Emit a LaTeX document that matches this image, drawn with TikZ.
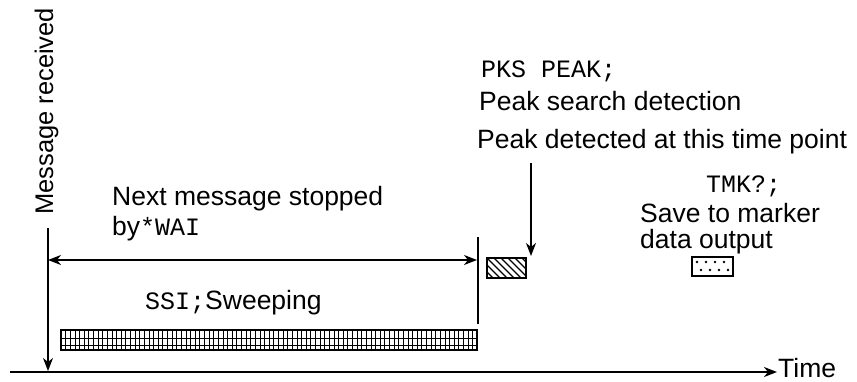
\documentclass[tikz,border=0pt]{standalone}
\usepackage{fontspec}
\setmainfont{Liberation Sans}
\newfontfamily\courierfont{Liberation Mono}
\usetikzlibrary{arrows.meta}

\tikzset{
  lbl/.style={inner sep=0pt, font=\fontsize{26.5}{30}\selectfont, anchor=base west},
  cmd/.style={inner sep=0pt, font=\courierfont\fontsize{25}{30}\selectfont, anchor=base west},
  arr/.style={line width=1.5pt, -{Stealth[length=13pt,width=10pt,inset=4pt]}},
  dblarr/.style={line width=1.5pt, {Stealth[length=13pt,width=10pt,inset=4pt]}-{Stealth[length=13pt,width=10pt,inset=4pt]}},
  barbox/.style={draw, line width=1.6pt},
}

\begin{document}
\begin{tikzpicture}[x=1pt,y=-1pt]
\useasboundingbox (0,0) rectangle (857,381);

% time axis
\coordinate (axL) at (10,372);
\coordinate (axR) at (777,372);
\draw[arr, line width=1.8pt] (axL) -- (axR);
\node[lbl] (time) at (778,377) {Time};

% message received marker
\node[lbl, rotate=90, font=\fontsize{25.5}{30}\selectfont] (msg) at (53,215) {Message received};
\coordinate (msgTop) at (48,228);
\coordinate (msgBot) at (48,371);
\draw[arr] (msgTop) -- (msgBot);

% wait interval
\node[lbl] (next) at (112,205) {Next message stopped};
\node[lbl] (by) at (112,235) {by{\courierfont\fontsize{25}{30}\selectfont *WAI}};
\coordinate (stopTop) at (478,237);
\coordinate (stopBot) at (478,324);
\draw[line width=1.5pt] (stopTop) -- (stopBot);
\coordinate (wL) at (48,260);
\coordinate (wR) at (477,260);
\draw[dblarr] (wL) -- (wR);

% sweep
\node[lbl] (ssi) at (145,309) {{\courierfont\fontsize{25}{30}\selectfont SSI;}Sweeping};
\begin{scope}
  \clip (61,330) rectangle (477,350);
  \foreach \i in {0,...,45} {
    \draw[line width=0.8pt] ({61+\i*9.25},330) -- ({61+\i*9.25},350);
    \draw[line width=0.5pt] ({65.6+\i*9.25},330) -- ({65.6+\i*9.25},350);
  }
  \draw[line width=0.7pt] (61,338) -- (477,338);
  \draw[line width=0.7pt] (61,345) -- (477,345);
\end{scope}
\node[barbox, minimum width=416pt, minimum height=20pt, inner sep=0pt] (sweep) at (269,340) {};

% peak search
\node[cmd] (pks) at (481,77) {PKS PEAK;};
\node[lbl] (pksd) at (479,110) {Peak search detection};
\node[lbl] (peak) at (477,148) {Peak detected at this time point};
\begin{scope}
  \clip (487,258) rectangle (526,278);
  \foreach \i in {-4,...,6} {
    \draw[line width=1.2pt] ({487+\i*7},258) -- ({507+\i*7},278);
  }
\end{scope}
\node[barbox, minimum width=39pt, minimum height=20pt, inner sep=0pt] (hatch) at (506.5,268) {};
\coordinate (peakArr) at (531,163);
\draw[arr] (peakArr) -- (531,256);

% marker output
\node[cmd] (tmk) at (706,192) {TMK?;};
\node[lbl] (save) at (640,222) {Save to marker};
\node[lbl] (data) at (640,248) {data output};
\foreach \px/\py in {697/262,706/262,715/262,724/262,701/270,710/270,719/270,728/270} {
  \fill (\px,\py) circle (1.3pt);
}
\node[draw, line width=1.6pt, minimum width=41pt, minimum height=19pt, inner sep=0pt] (dots) at (712.5,266.5) {};
\end{tikzpicture}
\end{document}
